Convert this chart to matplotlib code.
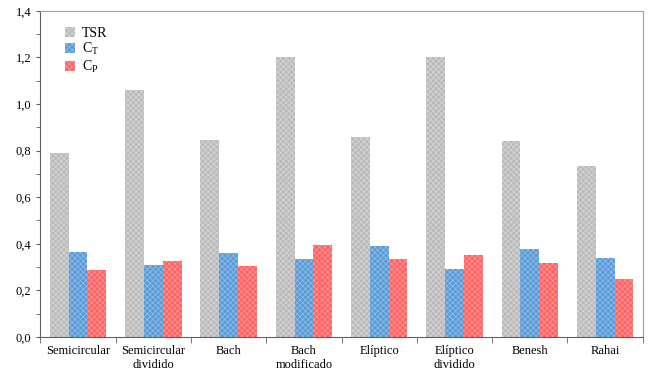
import matplotlib
matplotlib.use('Agg')
from matplotlib import pyplot as plt
import numpy as np

plt.rcParams['font.family'] = ['Liberation Serif', 'DejaVu Serif']
plt.rcParams['mathtext.fontset'] = 'custom'
plt.rcParams['mathtext.rm'] = 'Liberation Serif'
plt.rcParams['hatch.linewidth'] = 0.5

categories = ['Semicircular', 'Semicircular\ndividido', 'Bach', 'Bach\nmodificado',
              'Elíptico', 'Elíptico\ndividido', 'Benesh', 'Rahai']
tsr = [0.79, 1.06, 0.845, 1.20, 0.86, 1.20, 0.84, 0.735]
ct = [0.365, 0.31, 0.362, 0.333, 0.39, 0.293, 0.378, 0.337]
cp = [0.288, 0.327, 0.303, 0.395, 0.336, 0.35, 0.318, 0.248]

fig = plt.figure(figsize=(6.62, 3.74), dpi=100)
ax = fig.add_axes([0.061, 0.099, 0.91, 0.872])

x = np.arange(len(categories))
w = 0.25
ax.bar(x - w, tsr, w, color='#bababa', edgecolor='#d8d8d8', hatch='xxxxxx', linewidth=0, label='TSR')
ax.bar(x, ct, w, color='#5a9ad6', edgecolor='#93c0ea', hatch='xxxxxx', linewidth=0, label='C$_\\mathregular{T}$')
ax.bar(x + w, cp, w, color='#ff6262', edgecolor='#ff9a9a', hatch='xxxxxx', linewidth=0, label='C$_\\mathregular{P}$')

ax.set_xlim(-0.5, 7.5)
ax.set_ylim(0, 1.4)
ax.set_yticks(np.arange(0, 1.41, 0.2))
ax.set_yticklabels([('%.1f' % v).replace('.', ',') for v in np.arange(0, 1.41, 0.2)])
ax.set_yticks(np.arange(0.1, 1.4, 0.2), minor=True)
ax.set_xticks(x)
ax.set_xticklabels(categories)
ax.set_xticks(np.arange(-0.5, 7.6, 1), minor=True)
ax.tick_params(axis='x', which='major', length=0, labelsize=9, pad=6)
ax.tick_params(axis='x', which='minor', length=4, direction='out', color='#606060')
ax.tick_params(axis='y', which='both', direction='out', length=3, labelsize=9, color='#606060')

for s in ax.spines.values():
    s.set_color('#a0a0a0')
ax.spines['bottom'].set_color('#606060')
ax.spines['left'].set_color('#606060')

ax.legend(loc='upper left', bbox_to_anchor=(0.02, 0.99), frameon=False, fontsize=10,
          handlelength=0.7, handleheight=0.7, handletextpad=0.5, labelspacing=0.1)

fig.savefig('out.png', dpi=100)
